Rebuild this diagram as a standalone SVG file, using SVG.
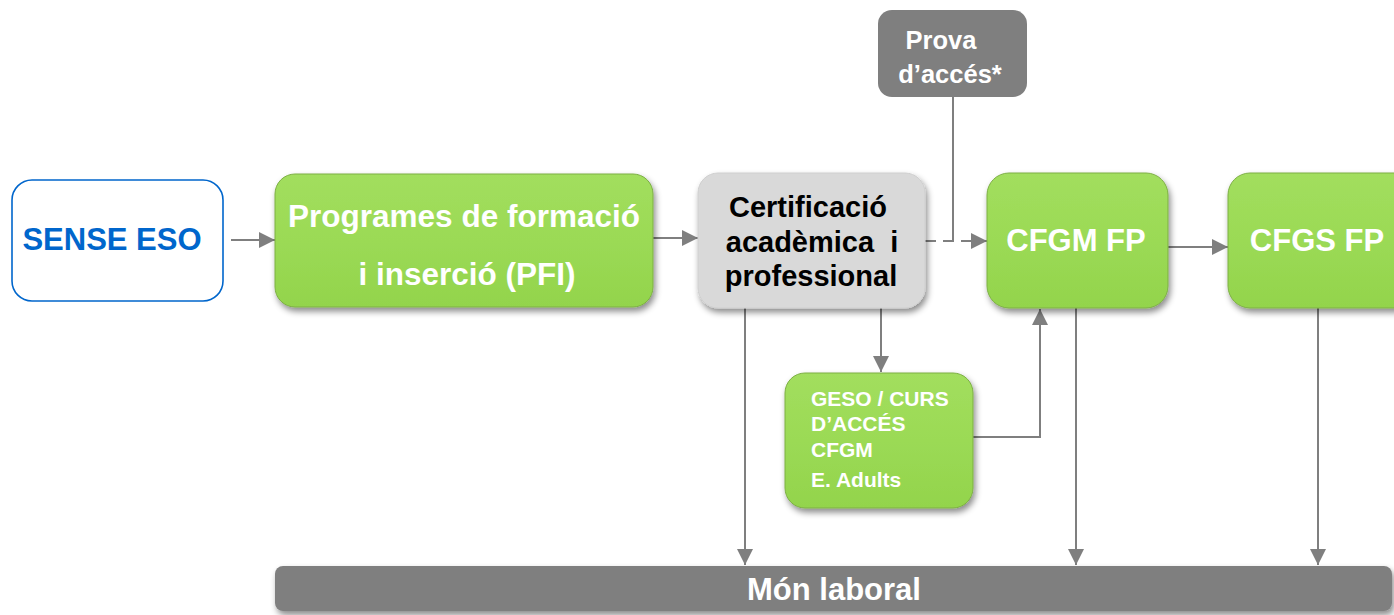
<svg xmlns="http://www.w3.org/2000/svg" width="1394" height="615" viewBox="0 0 1394 615">
<style>
text{font-family:"Liberation Sans",Arial,sans-serif;font-weight:bold}
.green{fill:url(#gg);stroke:#7DAF45;stroke-width:1;filter:url(#sh)}
.wt{fill:#FFFFFF}
.conn{stroke:#7F7F7F;stroke-width:2;fill:none}
</style>
<defs>
<linearGradient id="gg" x1="0" y1="0" x2="0" y2="1">
<stop offset="0" stop-color="#A2DE5E"/>
<stop offset="0.5" stop-color="#9BDA55"/>
<stop offset="1" stop-color="#93D44C"/>
</linearGradient>
<filter id="sh" x="-10%" y="-10%" width="125%" height="130%">
<feDropShadow dx="2" dy="4" stdDeviation="3" flood-color="#000" flood-opacity="0.45"/>
</filter>
<marker id="ah" markerUnits="userSpaceOnUse" markerWidth="17" markerHeight="16" refX="16" refY="8" orient="auto">
<path d="M0,0 L16,8 L0,16 z" fill="#7F7F7F"/>
</marker>
</defs>

<g id="connectors">
<line class="conn" x1="231" y1="240" x2="275" y2="240" marker-end="url(#ah)"/>
<line class="conn" x1="653" y1="238" x2="698" y2="238" marker-end="url(#ah)"/>
<line class="conn" x1="925" y1="241" x2="987" y2="241" stroke-dasharray="11,7" marker-end="url(#ah)"/>
<line class="conn" x1="953" y1="97" x2="953" y2="241"/>
<line class="conn" x1="1168" y1="247" x2="1228" y2="247" marker-end="url(#ah)"/>
<line class="conn" x1="745" y1="308" x2="745" y2="565" marker-end="url(#ah)"/>
<line class="conn" x1="881" y1="308" x2="881" y2="372" marker-end="url(#ah)"/>
<polyline class="conn" points="973,437 1040,437 1040,309" marker-end="url(#ah)"/>
<line class="conn" x1="1076" y1="308" x2="1076" y2="565" marker-end="url(#ah)"/>
<line class="conn" x1="1318" y1="308" x2="1318" y2="565" marker-end="url(#ah)"/>
</g>

<g id="sense-eso">
<rect x="12" y="180" width="211" height="121" rx="20" fill="#FFFFFF" stroke="#0066CC" stroke-width="1.6"/>
<text x="112" y="250" text-anchor="middle" font-size="31" fill="#0066CC">SENSE ESO</text>
</g>

<g id="pfi">
<rect class="green" x="275" y="174" width="378" height="133" rx="20"/>
<text class="wt" x="464" y="227" text-anchor="middle" font-size="31.5">Programes de formació</text>
<text class="wt" x="467" y="285" text-anchor="middle" font-size="31.5">i inserció (PFI)</text>
</g>

<g id="certificacio">
<rect x="698" y="173" width="227" height="135" rx="20" fill="#D9D9D9" stroke="#CFCFCF" stroke-width="1" filter="url(#sh)"/>
<text x="808" y="217" text-anchor="middle" font-size="29" fill="#000000">Certificació</text>
<text x="812" y="252" text-anchor="middle" font-size="29" fill="#000000" xml:space="preserve">acadèmica  i</text>
<text x="811" y="286" text-anchor="middle" font-size="29" fill="#000000">professional</text>
</g>

<g id="prova">
<rect x="878" y="10" width="149" height="87" rx="14" fill="#7F7F7F"/>
<text class="wt" x="941" y="49" text-anchor="middle" font-size="25.5">Prova</text>
<text class="wt" x="950" y="83" text-anchor="middle" font-size="25.5">d’accés*</text>
</g>

<g id="cfgm">
<rect class="green" x="987" y="173" width="181" height="135" rx="22"/>
<text class="wt" x="1076" y="251" text-anchor="middle" font-size="31">CFGM FP</text>
</g>

<g id="cfgs">
<rect class="green" x="1228" y="173" width="190" height="135" rx="22"/>
<text class="wt" x="1317" y="251" text-anchor="middle" font-size="31">CFGS FP</text>
</g>

<g id="geso">
<rect class="green" x="785" y="373" width="188" height="135" rx="20"/>
<text class="wt" x="811" y="406" font-size="21">GESO / CURS</text>
<text class="wt" x="811" y="431" font-size="21">D’ACCÉS</text>
<text class="wt" x="811" y="457" font-size="21">CFGM</text>
<text class="wt" x="811" y="487" font-size="21">E. Adults</text>
</g>

<g id="mon-laboral">
<rect x="275" y="566" width="1117" height="45" rx="8" fill="#7F7F7F" filter="url(#sh)"/>
<text class="wt" x="834" y="600" text-anchor="middle" font-size="31">Món laboral</text>
</g>
</svg>
